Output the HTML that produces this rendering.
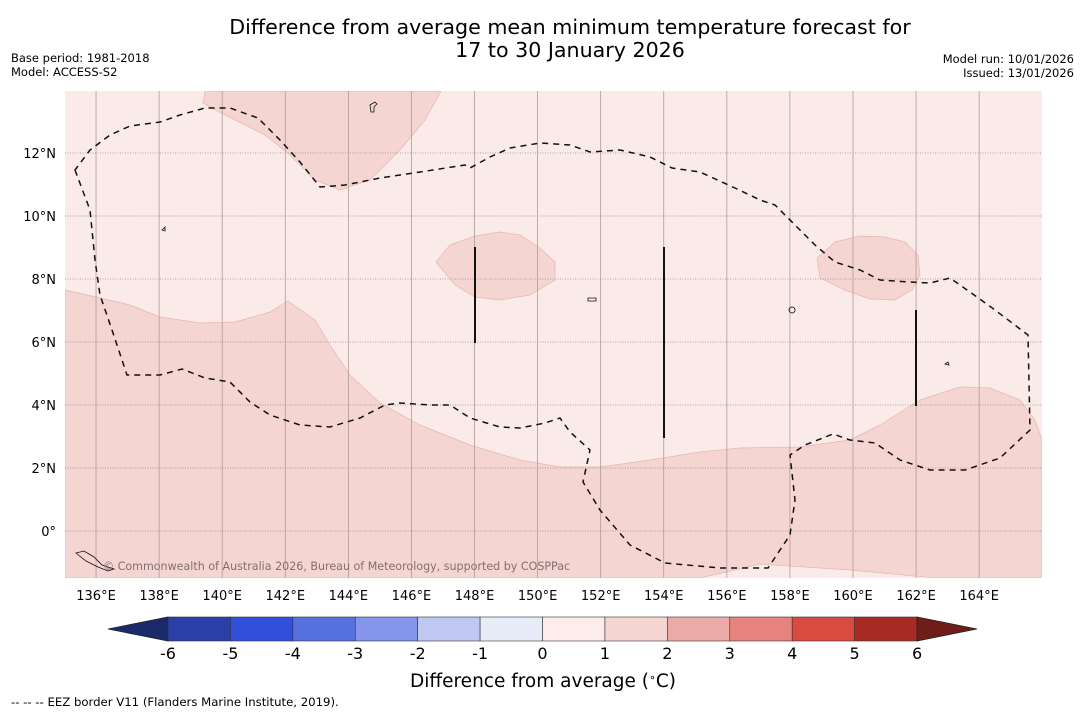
<!DOCTYPE html>
<html><head><meta charset="utf-8">
<style>
body{margin:0;background:#fff;width:1085px;height:713px;overflow:hidden;font-family:"DejaVu Sans","Liberation Sans",sans-serif;}
svg{position:absolute;left:0;top:0}
</style></head>
<body>
<svg width="1085" height="713" xmlns="http://www.w3.org/2000/svg">
<text x="570" y="34" text-anchor="middle" font-size="20.6">Difference from average mean minimum temperature forecast for</text>
<text x="570" y="57" text-anchor="middle" font-size="20.6">17 to 30 January 2026</text>
<text x="11" y="62" font-size="11.5">Base period: 1981-2018</text>
<text x="11" y="76" font-size="11.5">Model: ACCESS-S2</text>
<text x="1074" y="63" font-size="11.5" text-anchor="end">Model run: 10/01/2026</text>
<text x="1074" y="77" font-size="11.5" text-anchor="end">Issued: 13/01/2026</text>
<g id="map">
<clipPath id="clip"><rect x="65" y="91" width="977" height="487"/></clipPath>
<rect x="65" y="91" width="977" height="487" fill="#fbebe8"/>
<g clip-path="url(#clip)" fill="#f5d5d2" stroke="#e3b6b2" stroke-width="0.7">
<polygon points="65,290 100,298 130,305 160,317 200,323 235,322 270,312 288,301 315,320 330,345 350,375 380,403 420,425 470,445 520,460 560,467 600,467 650,460 700,452 740,448 800,447 850,440 880,425 920,400 960,387 990,388 1020,400 1035,420 1042,440 1042,578 935,578 850,570 760,564 700,578 65,578"/>
<polygon points="205,91 203,103 225,115 265,135 290,155 315,180 340,190 370,180 400,150 425,120 441,91"/>
<polygon points="436,262 450,245 475,236 500,232 520,235 540,248 555,262 555,280 530,295 500,300 475,297 455,285"/>
<polygon points="817,258 835,242 860,236 885,237 905,242 918,255 920,275 912,290 895,300 870,299 845,290 820,278"/>
</g>
<g id="grid"></g>
<g id="eez"></g>
<g stroke="#111" stroke-width="2">
<line x1="475" y1="247" x2="475" y2="343"/>
<line x1="664" y1="247" x2="664" y2="438"/>
<line x1="916" y1="310" x2="916" y2="406"/>
</g>
<g fill="none" stroke="#111" stroke-width="0.8">
<path d="M370,105 l5,-3 l2,2 l-3,3 l0,5 l-3,0z"/>
<path d="M162,230 l3,-3 l0,4z"/>
<path d="M792,313 a3,3 0 1 1 0.1,0z"/>
<path d="M588,298 l8,0 l0,3 l-8,0z"/>
<path d="M76,553 l8,-2 l10,6 l8,8 l12,4 l-6,2 l-10,-4 l-12,-6z"/>
<path d="M945,364 l3,-2 l1,3z"/>
</g>
<text x="103" y="570" font-size="11.1" fill="#807070">© Commonwealth of Australia 2026, Bureau of Meteorology, supported by COSPPac</text>
</g>
<g id="axes"></g>
<g id="cbar"></g>
<text x="543" y="687" text-anchor="middle" font-size="18.5">Difference from average (<tspan font-size="11" dy="-6">∘</tspan><tspan dy="6">C)</tspan></text>
<text x="11" y="706" font-size="11.7">--  --  -- EEZ border V11 (Flanders Marine Institute, 2019).</text>
</svg>
<script>
const NS="http://www.w3.org/2000/svg";
const lonTicks=[136,138,140,142,144,146,148,150,152,154,156,158,160,162,164];
const latTicks=[0,2,4,6,8,10,12];
const cbarTicks=[-6,-5,-4,-3,-2,-1,0,1,2,3,4,5,6];
const cbarColors=["#2a3fa8","#2f4fdc","#5670e0","#8595ea","#c0c8f2","#e8ebf8","#fcecea","#f5d5d2","#ebaaa5","#e6837c","#d94a40","#a82c24"];
const xLon=l=>64.5+(l-135)*31.54;
const yLat=l=>531-l*31.5;
function mk(t,a,p){const e=document.createElementNS(NS,t);for(const k in a)e.setAttribute(k,a[k]);p.appendChild(e);return e;}
const grid=document.getElementById('grid'),axes=document.getElementById('axes');
lonTicks.forEach(l=>{const x=xLon(l);
 const g=mk('line',{x1:x,y1:91,x2:x,y2:578,stroke:'#b09a98','stroke-width':0.8},grid);
 
 
 const t=mk('text',{x:x,y:600,'text-anchor':'middle','font-size':13},axes);t.textContent=l+'°E';
 
 
});
latTicks.forEach(l=>{const y=yLat(l);
 const g=mk('line',{x1:65,y1:y,x2:1042,y2:y,stroke:'#a08886','stroke-width':0.8,'stroke-dasharray':'1,1.5'},grid);
 
 
 const t=mk('text',{x:56,y:y+5,'text-anchor':'end','font-size':13},axes);t.textContent=l===0?'0°':l+'°N';
 
 
});
const eezPts="75,170 90,210 95,260 100,295 112,330 127,375 160,375 182,369 205,378 230,382 250,402 270,415 300,425 330,427 360,418 385,405 400,403 430,405 450,405 470,418 500,427 520,428 545,423 560,418 570,432 590,450 583,482 600,510 630,545 665,563 720,568 768,568 790,535 795,500 790,455 805,445 833,434 850,440 875,443 900,460 930,470 965,470 1000,458 1030,430 1028,335 995,310 970,292 950,278 930,283 910,282 880,280 860,270 835,262 815,245 800,230 775,205 760,200 735,188 700,172 672,168 650,157 620,150 590,152 570,145 540,143 510,148 490,157 470,168 465,165 420,172 380,178 345,185 320,187 300,162 280,140 258,118 230,108 205,108 180,115 160,122 130,126 110,135 90,150";
const eez=mk('polygon',{points:eezPts,fill:'none',stroke:'#111','stroke-width':1.5,'stroke-dasharray':'6,5'},document.getElementById('eez'));


const cb=document.getElementById('cbar');
const cx0=168,cw=62.42,cy=617,ch=24;
const lt=mk('polygon',{points:`${cx0},${cy} ${cx0},${cy+ch} 108,${cy+ch/2}`,fill:'#1b2a6b',stroke:'#222','stroke-width':0.8},cb);


cbarColors.forEach((c,i)=>{const r=mk('rect',{x:cx0+i*cw,y:cy,width:cw,height:ch,fill:c,stroke:'#333','stroke-width':0.6},cb);
 
 });
const xe=cx0+cbarColors.length*cw;
const rt=mk('polygon',{points:`${xe},${cy} ${xe},${cy+ch} 977,${cy+ch/2}`,fill:'#6e1d18',stroke:'#222','stroke-width':0.8},cb);


cbarTicks.forEach((v,i)=>{const t=mk('text',{x:cx0+i*cw,y:659,'text-anchor':'middle','font-size':16},cb);t.textContent=v;
 
 });
</script>
</body></html>
